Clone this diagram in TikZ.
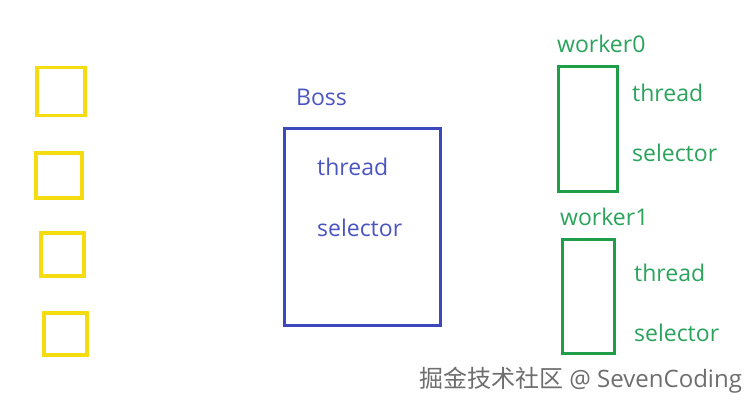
\documentclass[tikz,border=0pt]{standalone}
\usepackage{fontspec}
\setmainfont{Open Sans}
\newfontfamily\cjk{Noto Sans CJK SC}
\usetikzlibrary{positioning}
\definecolor{queueyellow}{HTML}{F5DC10}
\definecolor{bossblue}{HTML}{3C48BC}
\definecolor{bosstext}{HTML}{4B55C2}
\definecolor{workergreen}{HTML}{1F9E4A}
\definecolor{workertext}{HTML}{2BA35C}
\definecolor{markgray}{HTML}{6E6E6E}

\begin{document}
\begin{tikzpicture}[x=1pt, y=-1pt,
    box/.style={draw=#1, line width=2.8pt, inner sep=0pt},
    slot/.style={box=queueyellow, line width=3.4pt},
    lbl/.style={text=#1, anchor=west, inner sep=0pt, font=\fontsize{23}{26}\selectfont}
  ]
    \useasboundingbox[fill=white] (0,0) rectangle (753,407);

    % waiting connections
    \node[slot, minimum width=48pt, minimum height=48pt] (q0) at (61,91.5) {};
    \node[slot, minimum width=46pt, minimum height=45pt] (q1) at (59,175.5) {};
    \node[slot, minimum width=43pt, minimum height=43pt] (q2) at (62.5,254.5) {};
    \node[slot, minimum width=43pt, minimum height=42pt] (q3) at (65.5,334) {};

    % boss group
    \node[box=bossblue, minimum width=156pt, minimum height=197pt] (boss) at (362.5,227) {};
    \node[lbl=bosstext] (bossname) at (296,97) {Boss};
    \node[lbl=bosstext] (bossthread) at (317,167) {thread};
    \node[lbl=bosstext] (bosssel) at (317,228) {selector};

    % worker group
    \node[box=workergreen, minimum width=59pt, minimum height=125pt] (w0) at (588,129) {};
    \node[lbl=workertext] (w0name) at (557,44) {worker0};
    \node[lbl=workertext] (w0thread) at (632,93) {thread};
    \node[lbl=workertext] (w0sel) at (632,153) {selector};

    \node[box=workergreen, minimum width=52pt, minimum height=114pt] (w1) at (588.5,296.5) {};
    \node[lbl=workertext] (w1name) at (560,217) {worker1};
    \node[lbl=workertext] (w1thread) at (634,273) {thread};
    \node[lbl=workertext] (w1sel) at (634,333) {selector};

    \node[lbl=markgray, font=\fontsize{24}{27}\selectfont] (mark) at (419,380) {{\cjk 掘金技术社区} @ SevenCoding};
  \end{tikzpicture}
\end{document}
